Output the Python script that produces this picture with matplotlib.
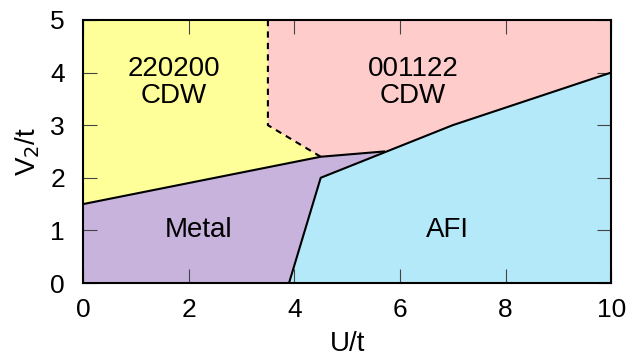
import matplotlib
matplotlib.use("Agg")
import matplotlib.pyplot as plt

plt.rcParams["font.family"] = ["Liberation Sans", "DejaVu Sans"]

# phase boundary points (U/t, V2/t)
metal_cdw_u = [0.0, 4.5, 5.7]
metal_cdw_v = [1.5, 2.4, 2.5]
afi_u = [3.9, 4.5, 7.0, 10.0]
afi_v = [0.0, 2.0, 3.0, 4.0]
cdw_cdw_u = [3.5, 3.5, 4.5]
cdw_cdw_v = [5.0, 3.0, 2.4]

YELLOW = "#ffff99"
PINK = "#ffcccc"
PURPLE = "#c8b3dd"
CYAN = "#b4e9f9"

fig, ax = plt.subplots(figsize=(6.34, 3.56), dpi=100)
fig.subplots_adjust(left=0.131, right=0.964, top=0.944, bottom=0.205)
ax.set_xlim(0, 10)
ax.set_ylim(0, 5)

# regions
ax.fill([0, 10, 10, 0], [0, 0, 5, 5], color=PINK, lw=0, zorder=0)
ax.fill([0] + cdw_cdw_u[::-1] + [0], [metal_cdw_v[0]] + [2.4, 3.0, 5.0] + [5.0],
        color=YELLOW, lw=0, zorder=1)
ax.fill([0, afi_u[0], afi_u[1], 5.7] + metal_cdw_u[1::-1],
        [0, afi_v[0], afi_v[1], 2.5] + metal_cdw_v[1::-1],
        color=PURPLE, lw=0, zorder=1)
ax.fill(afi_u + [10], afi_v + [0], color=CYAN, lw=0, zorder=1)

# boundaries
ax.plot(metal_cdw_u, metal_cdw_v, color="black", lw=1.5, zorder=3)
ax.plot(afi_u, afi_v, color="black", lw=1.5, zorder=3)
ax.plot(cdw_cdw_u, cdw_cdw_v, color="black", lw=1.5, ls=(0, (3, 2.5)), zorder=3)

# labels
fs = 20
ax.text(1.72, 3.81, "220200\nCDW", ha="center", va="center", fontsize=fs,
        linespacing=1.05, zorder=4)
ax.text(6.25, 3.81, "001122\nCDW", ha="center", va="center", fontsize=fs,
        linespacing=1.05, zorder=4)
ax.text(2.18, 1.0, "Metal", ha="center", va="center", fontsize=fs, zorder=4)
ax.text(6.9, 1.0, "AFI", ha="center", va="center", fontsize=fs, zorder=4)

ax.set_xticks([0, 2, 4, 6, 8, 10])
ax.set_yticks([0, 1, 2, 3, 4, 5])
ax.tick_params(direction="in", length=10, width=0.8, color="#444444",
               top=True, right=True, labelsize=19)
ax.tick_params(axis="x", pad=11)
ax.tick_params(axis="y", pad=13)
for s in ax.spines.values():
    s.set_linewidth(1.5)
    s.set_zorder(5)
ax.set_xlabel("U/t", fontsize=20, labelpad=6)
ax.set_ylabel("V$_2$/t", fontsize=20, labelpad=6)

fig.savefig("out.png", dpi=100)
